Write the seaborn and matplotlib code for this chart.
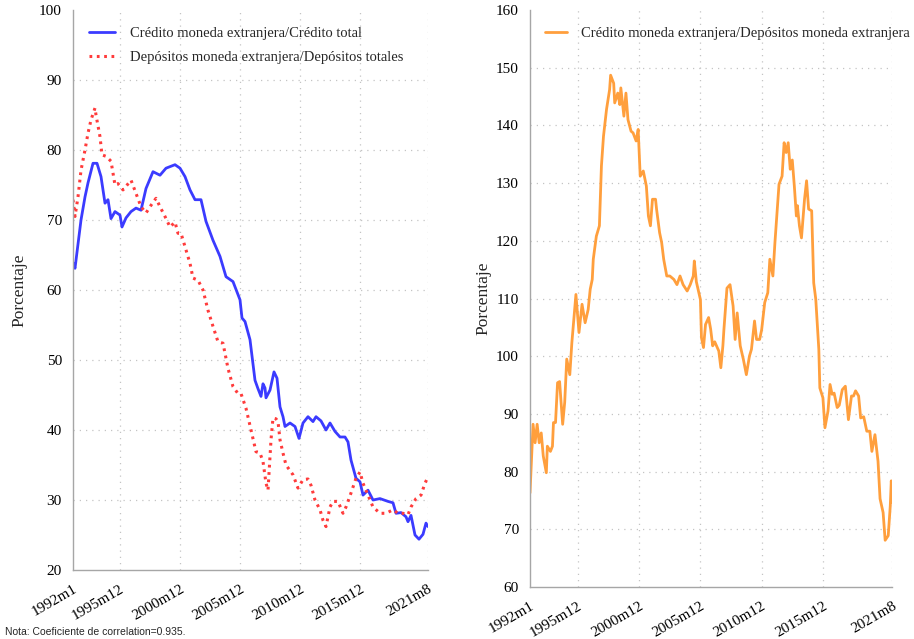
import matplotlib
matplotlib.use("Agg")
import matplotlib.pyplot as plt
import pandas as pd
import seaborn as sns

# Monthly axis: months elapsed since 1992m1
tick_months = [0, 47, 107, 167, 227, 287, 355]
tick_labels = ["1992m1", "1995m12", "2000m12", "2005m12", "2010m12", "2015m12", "2021m8"]

# Crédito en moneda extranjera / crédito total (%)
credito_meses = [0, 2, 8, 12, 15, 20, 24, 28, 32, 35, 38, 42, 47, 49, 53, 58, 63, 68, 73, 80,
                 87, 93, 102, 107, 112, 117, 122, 128, 133, 140, 147, 153, 160, 167, 169, 172,
                 177, 182, 185, 188, 190, 192, 193, 197, 201, 204, 207, 210, 212, 217, 222, 226,
                 230, 235, 240, 243, 248, 253, 257, 262, 267, 272, 275, 278, 283, 287, 290, 295,
                 300, 307, 315, 320, 323, 328, 333, 335, 338, 342, 346, 350, 353, 355]
credito_me = [63.9, 63.1, 70.0, 73.3, 75.3, 78.1, 78.1, 76.2, 72.4, 72.9, 70.2, 71.2, 70.7, 69.0,
              70.3, 71.2, 71.7, 71.4, 74.5, 76.9, 76.4, 77.4, 77.9, 77.4, 76.2, 74.3, 72.9, 72.9,
              69.8, 67.1, 64.8, 61.9, 61.2, 58.6, 56.0, 55.5, 52.9, 47.1, 45.9, 44.8, 46.6, 46.0,
              44.6, 45.7, 48.3, 47.4, 43.3, 41.9, 40.5, 41.0, 40.5, 38.8, 41.0, 41.9, 41.2, 41.9,
              41.3, 40.0, 41.0, 39.8, 39.0, 39.0, 38.3, 35.7, 33.1, 32.6, 30.7, 31.4, 30.0, 30.2,
              29.8, 29.6, 28.1, 28.2, 27.6, 26.9, 27.8, 25.0, 24.4, 25.1, 26.7, 26.2]

# Depósitos en moneda extranjera / depósitos totales (%)
depositos_meses = [0, 2, 5, 8, 12, 15, 18, 22, 23, 27, 29, 33, 38, 42, 45, 50, 53, 58, 63, 68,
                   73, 78, 83, 87, 92, 97, 102, 105, 108, 112, 117, 120, 125, 130, 135, 140, 145,
                   150, 155, 160, 165, 168, 173, 178, 183, 187, 190, 193, 195, 198, 200, 203, 205,
                   207, 210, 213, 220, 225, 230, 235, 238, 242, 247, 250, 253, 257, 260, 265, 270,
                   273, 278, 283, 287, 290, 295, 300, 307, 313, 320, 325, 330, 335, 338, 343, 348,
                   352, 355]
depositos_me = [72.9, 70.5, 73.3, 77.1, 80.0, 82.4, 84.3, 86.0, 85.0, 81.9, 79.3, 79.1, 78.4,
                75.0, 75.2, 74.3, 74.8, 75.7, 73.8, 71.9, 71.0, 72.1, 73.1, 71.9, 70.5, 69.0,
                69.7, 68.1, 68.1, 66.2, 63.8, 61.7, 61.4, 60.0, 57.1, 54.8, 52.6, 52.4, 48.8,
                46.2, 45.2, 45.2, 43.1, 40.0, 36.9, 36.7, 35.5, 32.4, 31.4, 38.6, 41.7, 41.6,
                41.2, 38.6, 36.7, 35.0, 33.6, 31.7, 32.9, 33.0, 32.1, 30.0, 28.6, 27.1, 26.2,
                29.0, 29.8, 29.8, 28.1, 29.0, 31.0, 33.1, 34.0, 32.4, 30.7, 29.0, 28.1, 28.1,
                28.6, 28.1, 28.1, 27.9, 29.0, 30.2, 30.7, 32.4, 33.3]

# Crédito en moneda extranjera / depósitos en moneda extranjera (%)
ratio_meses = [0, 3, 5, 7, 9, 11, 13, 16, 17, 20, 22, 23, 25, 27, 29, 32, 34, 36, 39, 41, 45,
               48, 51, 54, 57, 59, 61, 62, 65, 68, 70, 72, 75, 78, 79, 82, 83, 86, 88, 89, 92,
               94, 96, 99, 101, 104, 106, 108, 111, 114, 116, 118, 120, 123, 124, 127, 129, 131,
               134, 137, 141, 144, 147, 150, 154, 157, 160, 161, 163, 167, 168, 170, 172, 175,
               177, 179, 181, 185, 187, 189, 190, 193, 196, 199, 201, 203, 206, 209, 212, 215,
               217, 220, 222, 225, 227, 230, 233, 235, 238, 240, 243, 244, 247, 249, 251, 253,
               255, 257, 259, 261, 262, 264, 266, 269, 271, 273, 276, 278, 280, 283, 284, 287,
               289, 292, 294, 296, 298, 301, 303, 306, 309, 312, 315, 317, 319, 322, 324, 327,
               330, 333, 335, 338, 341, 343, 346, 348, 351, 353, 354, 355]
ratio_cd = [76.3, 88.2, 85.0, 88.2, 85.0, 86.7, 82.7, 79.8, 84.4, 83.5, 84.4, 88.5, 88.5, 95.4,
            95.6, 88.2, 92.0, 99.5, 96.8, 102.3, 110.7, 104.1, 109.0, 105.8, 108.1, 111.6,
            113.3, 116.8, 120.8, 122.6, 133.0, 138.1, 142.8, 146.2, 148.7, 147.3, 143.9, 145.6,
            143.6, 146.5, 141.6, 145.6, 141.0, 139.0, 138.7, 137.3, 139.3, 131.2, 132.1, 129.5,
            124.3, 122.6, 127.2, 127.2, 125.5, 121.4, 119.7, 116.8, 113.9, 113.9, 113.3, 112.4,
            113.9, 112.4, 111.3, 112.4, 113.9, 116.5, 112.9, 109.8, 103.2, 101.5, 105.5, 106.7,
            104.7, 101.8, 102.5, 100.9, 98.0, 101.8, 104.6, 111.8, 112.4, 108.7, 102.9, 107.5,
            101.8, 99.5, 96.8, 100.0, 101.2, 106.1, 102.9, 102.9, 104.6, 109.3, 111.0, 116.8,
            113.9, 119.7, 127.2, 129.8, 131.2, 137.0, 135.3, 137.0, 132.4, 134.0, 129.5, 124.3,
            126.1, 122.6, 120.5, 127.2, 130.4, 125.5, 125.2, 112.7, 109.9, 101.2, 94.5, 92.8,
            87.6, 90.5, 95.1, 93.4, 93.6, 91.1, 91.5, 94.2, 94.8, 89.0, 93.1, 93.1, 94.0, 93.1,
            89.3, 89.5, 87.0, 87.0, 83.5, 86.4, 81.8, 75.3, 72.9, 68.1, 68.9, 74.0, 78.4, 74.6]

lab_cred = "Crédito moneda extranjera/Crédito total"
lab_dep = "Depósitos moneda extranjera/Depósitos totales"
lab_ratio = "Crédito moneda extranjera/Depósitos moneda extranjera"

sns.set_theme(style="white")
plt.rcParams["font.family"] = ["Liberation Serif", "DejaVu Serif"]

AXIS_GREY = "#a6a6a6"
GRID_GREY = "#c4c4c4"

fig = plt.figure(figsize=(9.14, 6.39), dpi=100)
ax1 = fig.add_axes([73 / 914, 1 - 570 / 639, (428 - 73) / 914, (570 - 10) / 639])
ax2 = fig.add_axes([530 / 914, 1 - 587 / 639, (892.3 - 530) / 914, (587 - 10) / 639])

df_cred = pd.DataFrame({"mes": credito_meses, "valor": credito_me})
df_dep = pd.DataFrame({"mes": depositos_meses, "valor": depositos_me})
df_ratio = pd.DataFrame({"mes": ratio_meses, "valor": ratio_cd})

sns.lineplot(data=df_cred, x="mes", y="valor", ax=ax1, color="#3b3bff",
             linewidth=2.0, label=lab_cred)
sns.lineplot(data=df_dep, x="mes", y="valor", ax=ax1, color="#ff3b3b",
             linewidth=2.2, linestyle=(0, (0.9, 1.5)), label=lab_dep)
sns.lineplot(data=df_ratio, x="mes", y="valor", ax=ax2, color="#ff9f3d",
             linewidth=2.0, label=lab_ratio)


def style_axes(ax, ymin, ymax, ylabelpad):
    ax.set_xlim(0, 355)
    ax.set_ylim(ymin, ymax)
    yticks = list(range(ymin, ymax + 1, 10))
    ax.set_yticks(yticks)
    ax.set_xticks(tick_months)
    ax.set_xticklabels(tick_labels, rotation=30, ha="right", rotation_mode="anchor")
    for side in ("top", "right"):
        ax.spines[side].set_visible(False)
    for side in ("left", "bottom"):
        ax.spines[side].set_color(AXIS_GREY)
        ax.spines[side].set_linewidth(1.0)
    ax.tick_params(axis="both", which="major", direction="out", length=6, width=1,
                   color=AXIS_GREY, labelsize=11, labelcolor="black", pad=2)
    ax.tick_params(axis="x", pad=3)
    for y in yticks[1:-1]:
        ax.axhline(y, color=GRID_GREY, linestyle=(0, (1, 4)), linewidth=0.9, zorder=0)
    for x in tick_months[1:]:
        ax.axvline(x, color=GRID_GREY, linestyle=(0, (1, 4)), linewidth=0.9, zorder=0)
    ax.set_xlabel("")
    ax.set_ylabel("Porcentaje", fontsize=12.5, labelpad=ylabelpad)
    ax.set_facecolor("white")


style_axes(ax1, 20, 100, 8)
style_axes(ax2, 60, 160, 3)

ax1.legend(loc="upper left", bbox_to_anchor=(0.016, 0.988), frameon=False, fontsize=10.5,
           handlelength=1.8, handletextpad=1.0, labelspacing=0.75, borderaxespad=0.3)
ax2.legend(loc="upper left", bbox_to_anchor=(0.013, 0.988), frameon=False, fontsize=10.5,
           handlelength=1.5, handletextpad=0.95, borderaxespad=0.3)

fig.text(0.006, 1 - 632 / 639, "Nota: Coeficiente de correlation=0.935.",
         family=["Liberation Sans", "DejaVu Sans"], fontsize=7.5, va="center", ha="left")

fig.savefig("out.png", dpi=100, facecolor="white")
